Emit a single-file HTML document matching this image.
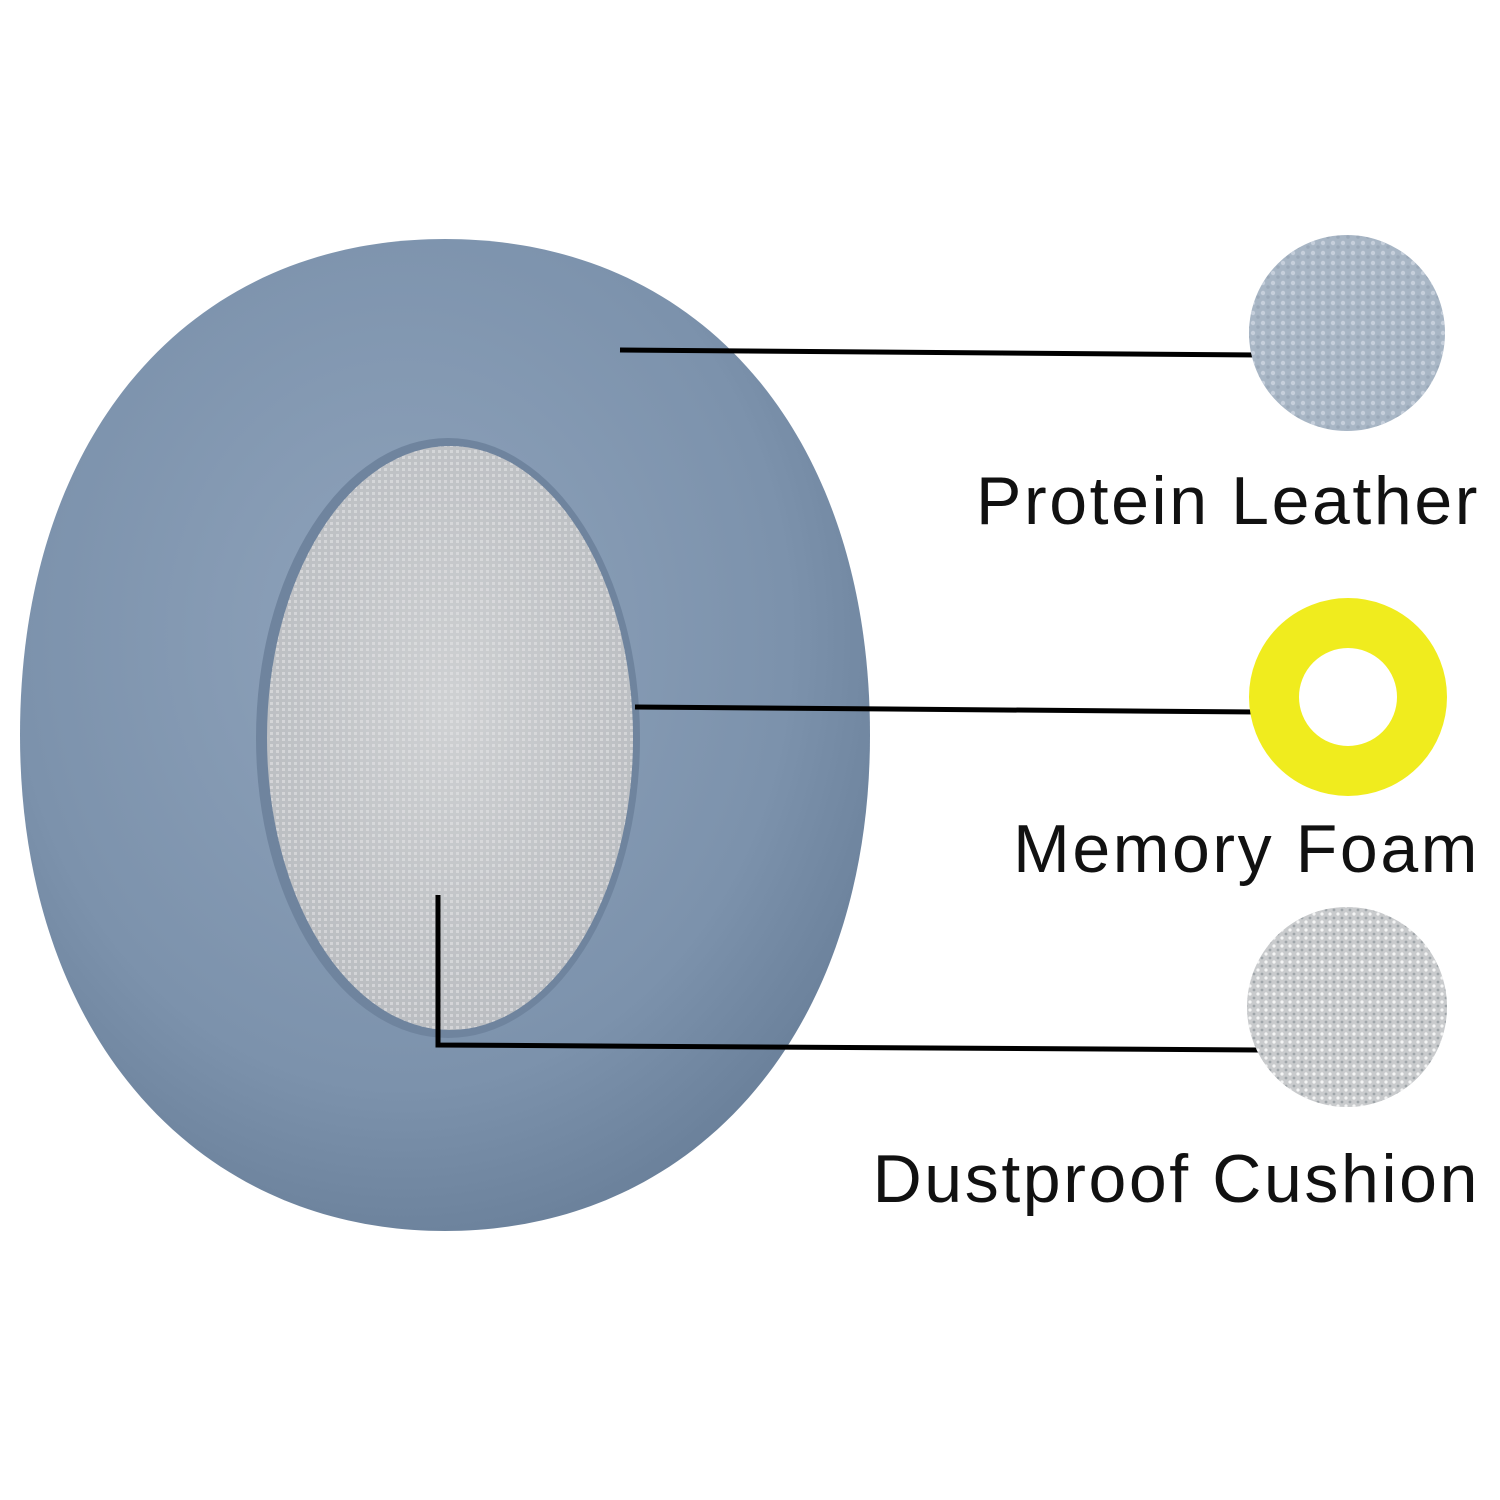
<!DOCTYPE html>
<html>
<head>
<meta charset="utf-8">
<style>
html,body{margin:0;padding:0;background:#fff;}
body{width:1500px;height:1500px;position:relative;overflow:hidden;}
svg{position:absolute;left:0;top:0;}
.lbl{position:absolute;right:20px;font-family:"Liberation Sans",sans-serif;font-size:68px;color:#111;white-space:nowrap;letter-spacing:2.6px;}
</style>
</head>
<body>
<svg width="1500" height="1500" viewBox="0 0 1500 1500">
<defs>
<radialGradient id="pad" cx="45%" cy="40%" r="65%">
<stop offset="0" stop-color="#8fa3bb"/>
<stop offset="0.7" stop-color="#7c92ac"/>
<stop offset="1" stop-color="#687e98"/>
</radialGradient>
<radialGradient id="inner" cx="50%" cy="45%" r="60%">
<stop offset="0" stop-color="#cfd1d3"/>
<stop offset="1" stop-color="#b9bcc0"/>
</radialGradient>
<pattern id="dots" width="8" height="8" patternUnits="userSpaceOnUse">
<circle cx="2" cy="2" r="1.6" fill="#ffffff" opacity="0.8"/>
<circle cx="6" cy="6" r="1.4" fill="#8e949a" opacity="0.7"/>
</pattern>
<pattern id="grain" width="10" height="10" patternUnits="userSpaceOnUse">
<circle cx="3" cy="3" r="2.2" fill="#d3dbe4" opacity="0.7"/>
<circle cx="8" cy="7" r="1.8" fill="#8b9aab" opacity="0.5"/>
</pattern>
<pattern id="fab" width="6" height="6" patternUnits="userSpaceOnUse">
<rect x="0" y="0" width="3" height="3" fill="#e2e3e4" opacity="0.6"/>
</pattern>
</defs>
<path d="M445,239 C703,239 870,437 870,735 C870,1033 695,1231 445,1231 C195,1231 20,1033 20,735 C20,437 187,239 445,239 Z" fill="url(#pad)"/>
<ellipse cx="448" cy="738" rx="192" ry="300" fill="#6f849e"/>
<ellipse cx="450" cy="738" rx="183" ry="292" fill="url(#inner)"/>
<ellipse cx="450" cy="738" rx="183" ry="292" fill="url(#fab)"/>
<line x1="620" y1="350" x2="1258" y2="355" stroke="#000" stroke-width="5"/>
<line x1="635" y1="707" x2="1258" y2="712" stroke="#000" stroke-width="5"/>
<polyline points="438,895 438,1045 1258,1050" fill="none" stroke="#000" stroke-width="5"/>
<circle cx="1347" cy="333" r="98" fill="#a8b6c5"/>
<circle cx="1347" cy="333" r="98" fill="url(#grain)"/>
<circle cx="1348" cy="697" r="74" fill="none" stroke="#f0ec1e" stroke-width="50"/>
<circle cx="1347" cy="1007" r="100" fill="#c9cbcd"/>
<circle cx="1347" cy="1007" r="100" fill="url(#dots)"/>
</svg>
<div class="lbl" style="top:462px;">Protein Leather</div>
<div class="lbl" style="top:810px;">Memory Foam</div>
<div class="lbl" style="top:1140px;">Dustproof Cushion</div>
</body>
</html>
